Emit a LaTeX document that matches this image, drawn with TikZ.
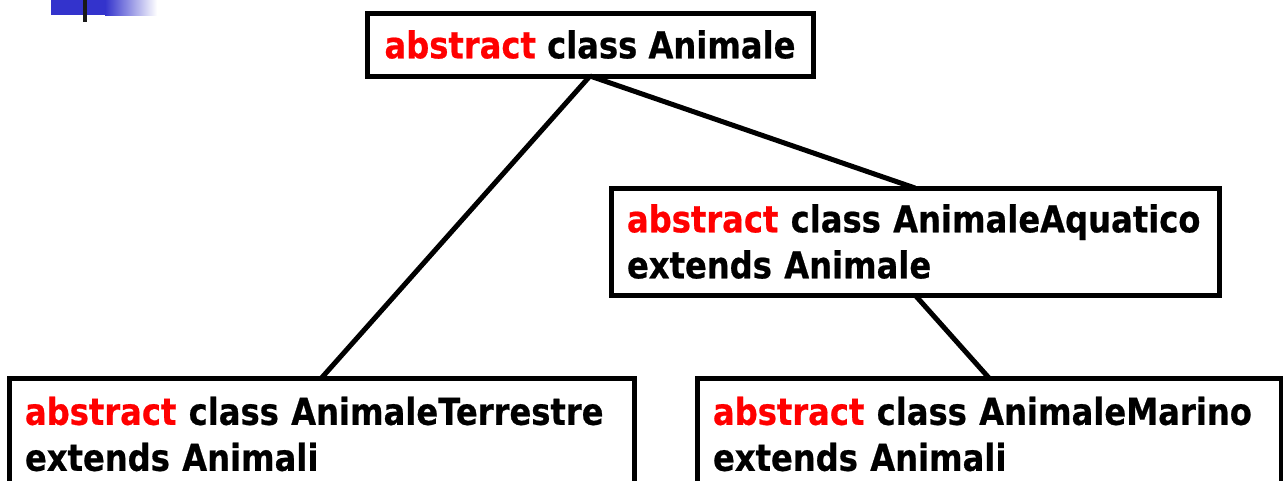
\documentclass[tikz,border=0pt]{standalone}
\usepackage{fontspec}
\setmainfont{DejaVu Sans}[FakeStretch=0.87, BoldFeatures={FakeBold=0.6}]
\usepackage{tikz}

\definecolor{slideblue}{RGB}{51,51,204}
\newcommand{\kw}[1]{\textcolor{red}{#1}}

\tikzset{
  classbox/.style={draw, line width=5pt, outer sep=0pt, inner xsep=16pt,
    align=left, font=\fontsize{37}{46}\selectfont\bfseries},
  link/.style={line width=5pt}
}

\begin{document}
\begin{tikzpicture}[x=1pt, y=-1pt]
  \useasboundingbox (0,0) rectangle (1283,480);
  \clip (0,0) rectangle (1283,480);
  % slide decoration
  \fill[slideblue] (51,0) rectangle (105,15);
  \shade[left color=slideblue, right color=white] (105,0) rectangle (157,15);
  \fill[black!90] (83,0) rectangle (87,22);

  \node[classbox, align=center, minimum width=446pt, minimum height=63pt, anchor=north west]
    (root) at (367,13) {\kw{abstract} class Animale};
  \node[classbox, text width=576pt, minimum height=107pt, anchor=north west]
    (aquatico) at (611,188) {\kw{abstract} class AnimaleAquatico\\extends Animale};
  \node[classbox, text width=593pt, minimum height=112pt, anchor=north west]
    (terrestre) at (9,378) {\kw{abstract} class AnimaleTerrestre\\extends Animali};
  \node[classbox, text width=552pt, minimum height=112pt, anchor=north west]
    (marino) at (697,378) {\kw{abstract} class AnimaleMarino\\extends Animali};

  \draw[link] (root.south) -- (terrestre.north);
  \draw[link] (root.south) -- (aquatico.north);
  \draw[link] (aquatico.south) -- (marino.north);
\end{tikzpicture}
\end{document}
